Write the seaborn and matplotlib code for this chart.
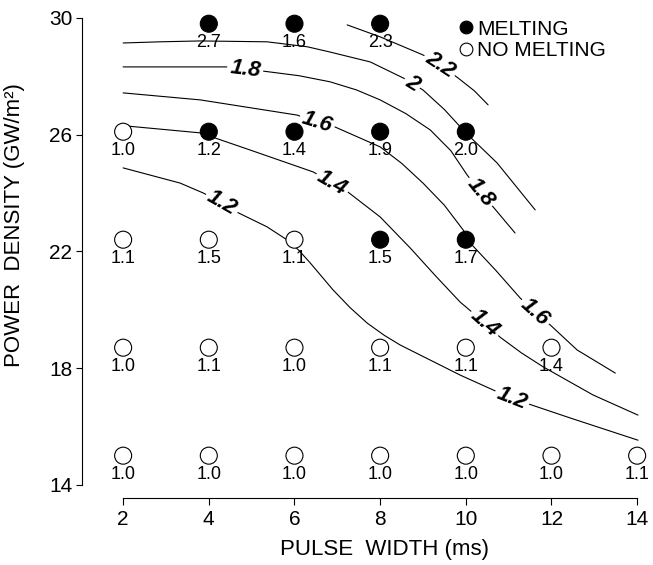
import numpy as np
import pandas as pd
import matplotlib
matplotlib.use("Agg")
import matplotlib.pyplot as plt
import seaborn as sns

# measured points: pulse width (ms), power density (GW/m2), ratio, melting?
pw = [4, 6, 8,
      2, 4, 6, 8, 10,
      2, 4, 6, 8, 10,
      2, 4, 6, 8, 10, 12,
      2, 4, 6, 8, 10, 12, 14]
pd_ = [29.8] * 3 + [26.1] * 5 + [22.4] * 5 + [18.7] * 6 + [15.0] * 7
ratio = [2.7, 1.6, 2.3,
         1.0, 1.2, 1.4, 1.9, 2.0,
         1.1, 1.5, 1.1, 1.5, 1.7,
         1.0, 1.1, 1.0, 1.1, 1.1, 1.4,
         1.0, 1.0, 1.0, 1.0, 1.0, 1.0, 1.1]
melt = [1, 1, 1,
        0, 1, 1, 1, 1,
        0, 0, 0, 1, 1,
        0, 0, 0, 0, 0, 0,
        0, 0, 0, 0, 0, 0, 0]

# contour lines
c12_x = [2.00, 3.33, 3.87, 4.31, 4.69, 5.36, 5.83, 6.10, 6.37, 6.90, 7.30, 7.70, 8.10, 8.47, 9.87, 10.64, 11.08, 11.55, 12.44, 14.02]
c12_y = [24.86, 24.34, 24.00, 23.66, 23.32, 22.84, 22.39, 22.04, 21.60, 20.68, 20.07, 19.54, 19.12, 18.79, 17.76, 17.25, 16.97, 16.73, 16.29, 15.53]
c14_x = [2.05, 3.80, 4.97, 6.44, 6.88, 7.25, 8.00, 8.70, 9.30, 9.87, 10.45, 10.80, 11.30, 11.81, 12.97, 14.02]
c14_y = [26.30, 26.06, 25.47, 24.72, 24.34, 24.03, 23.18, 22.12, 21.15, 20.26, 19.54, 19.06, 18.52, 18.04, 17.08, 16.39]
c16_x = [2.00, 3.80, 6.06, 6.53, 6.95, 8.00, 8.50, 9.00, 9.50, 9.94, 10.10, 10.70, 11.27, 11.62, 11.97, 12.60, 13.49]
c16_y = [27.43, 27.19, 26.67, 26.43, 26.26, 25.58, 25.02, 24.34, 23.58, 22.73, 22.29, 21.35, 20.40, 19.92, 19.48, 18.62, 17.83]
c18_x = [2.00, 4.45, 5.25, 6.10, 6.83, 7.45, 8.00, 8.60, 9.17, 9.65, 10.03, 10.34, 10.64, 11.15]
c18_y = [28.32, 28.32, 28.18, 28.02, 27.81, 27.53, 27.19, 26.72, 26.16, 25.45, 24.62, 24.03, 23.52, 22.63]
c20_x = [2.00, 2.86, 3.80, 5.36, 6.30, 6.83, 7.77, 8.54, 9.00, 9.50, 10.00, 10.73, 11.62]
c20_y = [29.14, 29.18, 29.21, 29.18, 29.01, 28.83, 28.49, 27.94, 27.53, 26.86, 26.06, 25.03, 23.42]
c22_x = [7.23, 8.00, 9.00, 9.40, 9.82, 10.20, 10.52]
c22_y = [29.76, 29.35, 28.73, 28.39, 27.94, 27.50, 27.02]

contours = [
    ("1.2", c12_x, c12_y, [4.31, 11.08]),
    ("1.4", c14_x, c14_y, [6.88, 10.45]),
    ("1.6", c16_x, c16_y, [6.53, 11.62]),
    ("1.8", c18_x, c18_y, [4.85, 10.34]),
    ("2", c20_x, c20_y, [8.75]),
    ("2.2", c22_x, c22_y, [9.40]),
]

df = pd.DataFrame({"pw": pw, "pd": pd_, "ratio": ratio,
                   "status": ["MELTING" if m else "NO MELTING" for m in melt]})

sns.set_style("ticks")
plt.rcParams["font.family"] = ["Liberation Sans", "DejaVu Sans"]
plt.rcParams.update({"text.color": "black", "axes.labelcolor": "black",
                     "xtick.color": "black", "ytick.color": "black",
                     "axes.edgecolor": "black"})

fig = plt.figure(figsize=(6.53, 5.65), dpi=100)
ax = fig.add_axes([0.1256, 0.1186, 0.8698, 0.8637])
ax.set_xlim(1.04, 14.30)
ax.set_ylim(13.55, 30.27)

for lab, cx, cy, lx in contours:
    sns.lineplot(x=cx, y=cy, sort=False, estimator=None, color="black", lw=0.8, ax=ax, zorder=1)

sns.scatterplot(data=df, x="pw", y="pd", hue="status",
                palette={"MELTING": "black", "NO MELTING": "white"},
                hue_order=["MELTING", "NO MELTING"],
                s=150, edgecolor="black", linewidth=0.8, ax=ax, zorder=3)

for _, r in df.iterrows():
    ax.annotate(f"{r['ratio']:.1f}", (r["pw"], r["pd"]), xytext=(0, -13.5),
                textcoords="offset points", ha="center", va="center",
                fontsize=13, zorder=4)

# inline contour labels
for lab, cx, cy, lx in contours:
    for x0 in lx:
        y0 = np.interp(x0, cx, cy)
        p1 = ax.transData.transform((x0 - 0.15, np.interp(x0 - 0.15, cx, cy)))
        p2 = ax.transData.transform((x0 + 0.15, np.interp(x0 + 0.15, cx, cy)))
        ang = np.degrees(np.arctan2(p2[1] - p1[1], p2[0] - p1[0]))
        ax.text(x0, y0, lab, rotation=ang, rotation_mode="anchor",
                ha="center", va="center", fontsize=16, fontweight="bold",
                fontstyle="italic", zorder=2,
                bbox=dict(facecolor="white", edgecolor="none", pad=2))

sns.despine(ax=ax)
ax.spines["left"].set_bounds(14, 30)
ax.spines["bottom"].set_bounds(2, 14)
ax.set_xticks(range(2, 15, 2))
ax.set_yticks([14, 18, 22, 26, 30])
ax.tick_params(axis="y", length=4, width=0.8, pad=3, labelsize=15)
ax.tick_params(axis="x", length=5, width=0.8, pad=4, labelsize=15)
for s in ax.spines.values():
    s.set_linewidth(0.8)

ax.set_xlabel("PULSE  WIDTH (ms)", fontsize=16)
ax.set_ylabel("POWER  DENSITY (GW/m²)", fontsize=16)
ax.xaxis.set_label_coords(0.532, -0.085)
ax.yaxis.set_label_coords(-0.10, 0.56)

sns.move_legend(ax, "upper left", bbox_to_anchor=(0.662, 0.98), frameon=False,
                title=None, fontsize=15, handlelength=0.8, handletextpad=0.1,
                labelspacing=0.1, borderpad=0, borderaxespad=0, markerscale=0.75)

fig.savefig("out.png", dpi=100)
